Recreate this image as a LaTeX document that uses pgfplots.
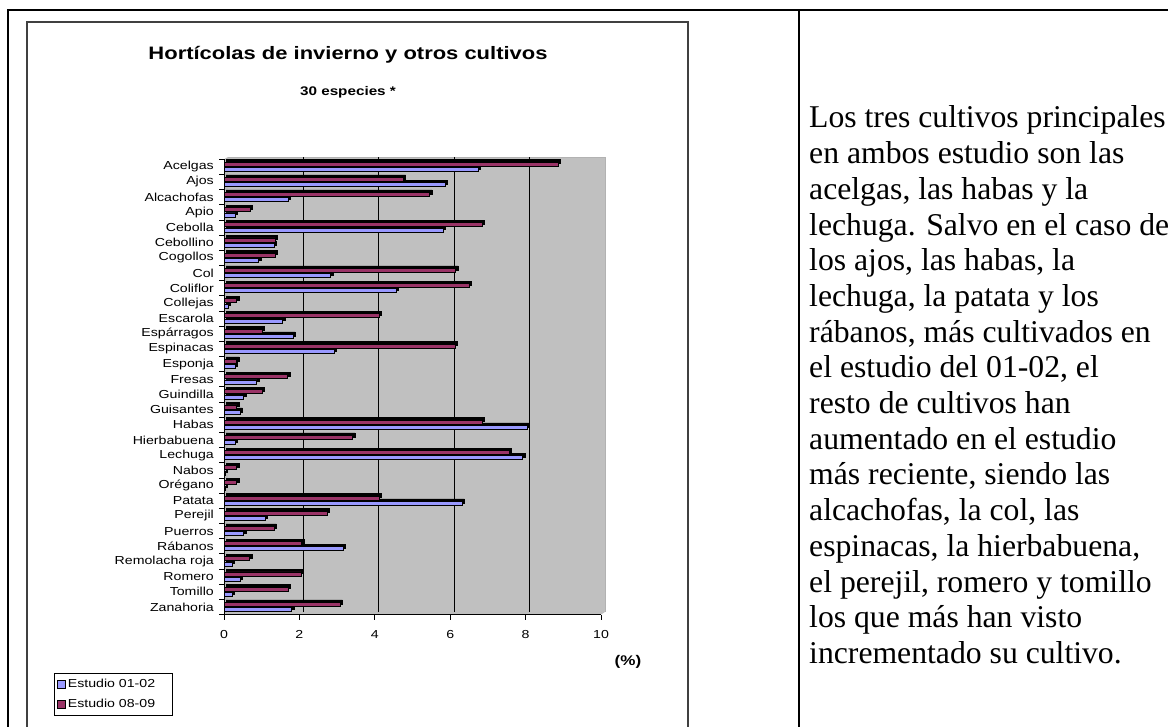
\documentclass[border=0pt]{standalone}
\usepackage{pgfplots}
\pgfplotsset{compat=1.18}
\usepackage{pgfplotstable}
\usepackage{fontspec}
\setmainfont{Liberation Serif}
\newfontfamily\arialx[FakeStretch=1.22]{Liberation Sans}
\definecolor{serA}{HTML}{9999FF}
\definecolor{serB}{HTML}{993366}
\definecolor{wall}{HTML}{C0C0C0}
\newcommand{\lab}{\arialx\fontsize{11.6}{13.5}\selectfont}

% y  = category position (Acelgas at top = 29)
% a  = Estudio 01-02 (%),  b = Estudio 08-09 (%)
\pgfplotstableread{
y  a     b
29 6.75  8.87
28 5.86  4.76
27 1.70  5.46
26 0.30  0.69
25 5.82  6.85
24 1.34  1.36
23 0.92  1.36
22 2.83  6.15
21 4.56  6.50
20 0.11  0.34
19 1.56  4.11
18 1.83  1.01
17 2.93  6.14
16 0.30  0.34
15 0.87  1.69
14 0.52  1.01
13 0.43  0.34
12 8.04  6.85
11 0.30  3.41
10 7.92  7.56
9  0.04  0.34
8  0.04  0.34
7  6.32  4.11
6  1.09  2.73
5  0.52  1.33
4  3.16  2.06
3  0.21  0.68
2  0.43  2.04
1  0.21  1.71
0  1.80  3.08
}\datatable

\begin{document}
\begin{tikzpicture}
\useasboundingbox (0pt,0pt) rectangle (1168pt,726pt);
\coordinate (A) at (224pt,111.4pt);
% table frame
\draw[line width=2.2pt] (8pt,-5pt) -- (8pt,716pt) -- (1175pt,716pt);
\draw[line width=2.2pt] (799pt,716pt) -- (799pt,-5pt);
% chart frame
\draw[line width=1.1pt, black!75] (27pt,-5pt) -- (27pt,704pt) -- (688pt,704pt) -- (688pt,-5pt);
% 3D walls
\fill[wall] (228pt,114pt) rectangle (605pt,569pt);
\draw[gray!60, line width=0.8pt] (228pt,569pt) -- (605pt,569pt) -- (605pt,114pt);
\fill[gray!55] (224pt,111.4pt) -- (228pt,114pt) -- (228pt,569pt) -- (224pt,566.8pt) -- cycle;
\fill[gray!50] (224pt,111.4pt) -- (601pt,111.4pt) -- (605pt,114pt) -- (228pt,114pt) -- cycle;
% titles
\node[font=\arialx\bfseries\fontsize{18}{21}\selectfont] at (348pt,671pt) {Hortícolas de invierno y otros cultivos};
\node[font=\arialx\bfseries\fontsize{12.5}{15}\selectfont] at (348pt,634pt) {30 especies *};
\node[font=\arialx\bfseries\fontsize{14}{16}\selectfont] at (628pt,64pt) {(\%)};
% right text
\begin{scope}[every node/.style={anchor=base west, inner sep=0pt, font=\fontsize{31.7}{36}\selectfont}]
\node at (809pt,598.0pt) {Los tres cultivos principales};
\node at (809pt,562.3pt) {en ambos estudio son las};
\node at (809pt,526.6pt) {acelgas, las habas y la};
\node at (809pt,490.9pt) {lechuga. Salvo en el caso de};
\node at (809pt,455.2pt) {los ajos, las habas, la};
\node at (809pt,419.5pt) {lechuga, la patata y los};
\node at (809pt,383.8pt) {rábanos, más cultivados en};
\node at (809pt,348.1pt) {el estudio del 01-02, el};
\node at (809pt,312.4pt) {resto de cultivos han};
\node at (809pt,276.7pt) {aumentado en el estudio};
\node at (809pt,241.0pt) {más reciente, siendo las};
\node at (809pt,205.3pt) {alcachofas, la col, las};
\node at (809pt,169.6pt) {espinacas, la hierbabuena,};
\node at (809pt,133.9pt) {el perejil, romero y tomillo};
\node at (809pt,98.2pt) {los que más han visto};
\node at (809pt,62.5pt) {incrementado su cultivo.};
\end{scope}
\begin{axis}[
  at={(A)}, anchor=south west, scale only axis,
  width=377pt, height=455.4pt,
  xmin=0, xmax=10, ymin=-0.5, ymax=29.5,
  clip=false,
  axis x line*=bottom, axis y line*=left,
  axis line style={black, line width=0.9pt, -},
  xtick={0,2,...,10},
  ytick={0,...,29},
  yticklabels={Zanahoria,Tomillo,Romero,Remolacha roja,Rábanos,Puerros,Perejil,Patata,Orégano,Nabos,Lechuga,Hierbabuena,Habas,Guisantes,Guindilla,Fresas,Esponja,Espinacas,Espárragos,Escarola,Collejas,Coliflor,Col,Cogollos,Cebollino,Cebolla,Apio,Alcachofas,Ajos,Acelgas},
  minor xtick={0,2,...,10},
  minor ytick={-0.5,0.5,...,29.5},
  major tick length=0pt, minor tick length=5pt,
  tick align=outside,
  minor tick style={black, line width=0.8pt},
  /pgf/number format/assume math mode=true,
  yticklabel style={font=\lab, anchor=east, inner sep=0pt, xshift=-10pt},
  xticklabel style={font=\lab, anchor=north, inner sep=0pt, yshift=-16pt},
  legend style={at={(-0.4509,-0.1282)}, anchor=north west, draw=black, line width=0.7pt,
     fill=white, font=\lab, inner xsep=3pt, inner ysep=4pt, row sep=6pt,
     cells={anchor=west}},
]
\foreach \g in {2,4,6,8} {
  \edef\tmp{\noexpand\draw[black, line width=0.8pt] ([xshift=4pt,yshift=2.5pt]axis cs:\g,-0.5) -- ([xshift=4pt,yshift=2.5pt]axis cs:\g,29.5);}
  \tmp
}
% Estudio 01-02
\addplot[xbar, bar width=4pt, bar shift=-0.1pt, fill=black, draw=black, line width=0.5pt, xshift=2.2pt, forget plot] table[x=a, y=y] {\datatable};
\addplot[xbar, bar width=4pt, bar shift=-2.6pt, fill=serA, draw=black, line width=0.8pt,
  legend image code/.code={\draw[fill=serA, draw=black, line width=0.9pt] (0pt,-3.8pt) rectangle (7.6pt,3.8pt);}] table[x=a, y=y] {\datatable};
% Estudio 08-09
\addplot[xbar, bar width=4pt, bar shift=5.2pt, fill=black, draw=black, line width=0.5pt, xshift=2.2pt, forget plot] table[x=b, y=y] {\datatable};
\addplot[xbar, bar width=4pt, bar shift=2.7pt, fill=serB, draw=black, line width=0.8pt,
  legend image code/.code={\draw[fill=serB, draw=black, line width=0.9pt] (0pt,-3.8pt) rectangle (7.6pt,3.8pt);}] table[x=b, y=y] {\datatable};
\legend{Estudio 01-02\hspace*{12pt}, Estudio 08-09\hspace*{12pt}}
\end{axis}
\end{tikzpicture}
\end{document}
